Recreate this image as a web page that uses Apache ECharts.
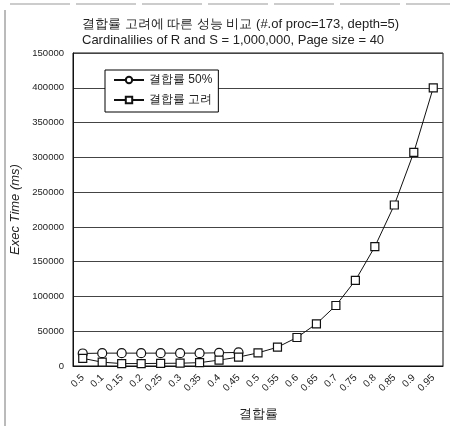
<!DOCTYPE html>
<html>
<head>
<meta charset="utf-8">
<script src="https://cdn.jsdelivr.net/npm/echarts@6/dist/echarts.min.js"></script>
<style>html,body{margin:0;padding:0;background:#fff}#c{width:458px;height:426px}</style>
</head>
<body>
<div id="c"></div>
<script>
var categories = ['0.5','0.1','0.15','0.2','0.25','0.3','0.35','0.4','0.45','0.5','0.55','0.6','0.65','0.7','0.75','0.8','0.85','0.9','0.95'];
var series50 = [18000,18500,18500,18500,18500,18500,18500,19000,19500,null,null,null,null,null,null,null,null,null,null];
var seriesJoin = [11000,5500,3500,3500,3800,4000,4800,8500,12800,18900,27000,41000,60600,87000,123000,171500,231500,307000,400000];
var yTickLabels = ['0','50000','100000','150000','200000','250000','300000','350000','400000','150000'];
var seriesNames = ['결합률 50%','결합률 고려'];

var chart = echarts.init(document.getElementById('c'), null, {renderer:'canvas'});
var font = 'Liberation Sans, Arial, sans-serif';
chart.setOption({
  animation:false,
  backgroundColor:'#fff',
  title:{
    text:'결합률 고려에 따른 성능 비교 (#.of proc=173, depth=5)\nCardinalilies of R and S = 1,000,000, Page size = 40',
    left:77, top:11,
    textStyle:{fontFamily:font, fontSize:13, fontWeight:'normal', color:'#222', lineHeight:16}
  },
  legend:{
    left:105, top:70, width:110, orient:'vertical',
    itemWidth:30, itemHeight:8, itemGap:8,
    padding:[4,6,6,8],
    backgroundColor:'#fff', borderColor:'#000', borderWidth:1,
    textStyle:{fontFamily:font, fontSize:12, color:'#222'},
    data:seriesNames
  },
  grid:{left:73, right:15, top:53, bottom:56, show:true, borderColor:'#111', borderWidth:1},
  xAxis:{
    type:'category', data:categories, boundaryGap:true,
    name:'결합률', nameLocation:'middle', nameGap:42,
    nameTextStyle:{fontFamily:font, fontSize:12.5, color:'#222'},
    axisLine:{lineStyle:{color:'#111'}},
    axisTick:{show:false},
    axisLabel:{rotate:45, interval:0, fontFamily:font, fontSize:10, color:'#222', margin:10}
  },
  yAxis:{
    type:'value', min:0, max:450000, interval:50000,
    name:'Exec Time (ms)', nameLocation:'middle', nameGap:45,
    nameTextStyle:{fontFamily:font, fontSize:13, fontStyle:'italic', color:'#222'},
    axisLine:{show:true, lineStyle:{color:'#111'}},
    axisTick:{show:false},
    axisLabel:{fontFamily:font, fontSize:9.5, color:'#222', margin:9,
      formatter:function(v){ return yTickLabels[Math.round(v/50000)]; }},
    splitLine:{show:true, lineStyle:{color:'#444', width:1}}
  },
  series:[
    {name:seriesNames[0], type:'line', data:series50, symbol:'circle', symbolSize:9,
     showAllSymbol:true, lineStyle:{color:'#111', width:1},
     itemStyle:{color:'#fff', borderColor:'#111', borderWidth:1.2}},
    {name:seriesNames[1], type:'line', data:seriesJoin, symbol:'rect', symbolSize:8,
     showAllSymbol:true, lineStyle:{color:'#111', width:1},
     itemStyle:{color:'#fff', borderColor:'#111', borderWidth:1.2}}
  ],
  graphic:[
    {type:'line', shape:{x1:5, y1:10, x2:5, y2:426}, style:{stroke:'#777', lineWidth:1}},
    {type:'line', shape:{x1:10, y1:4, x2:450, y2:4}, style:{stroke:'#999', lineWidth:1, lineDash:[60,6]}}
  ]
});
</script>
</body>
</html>
